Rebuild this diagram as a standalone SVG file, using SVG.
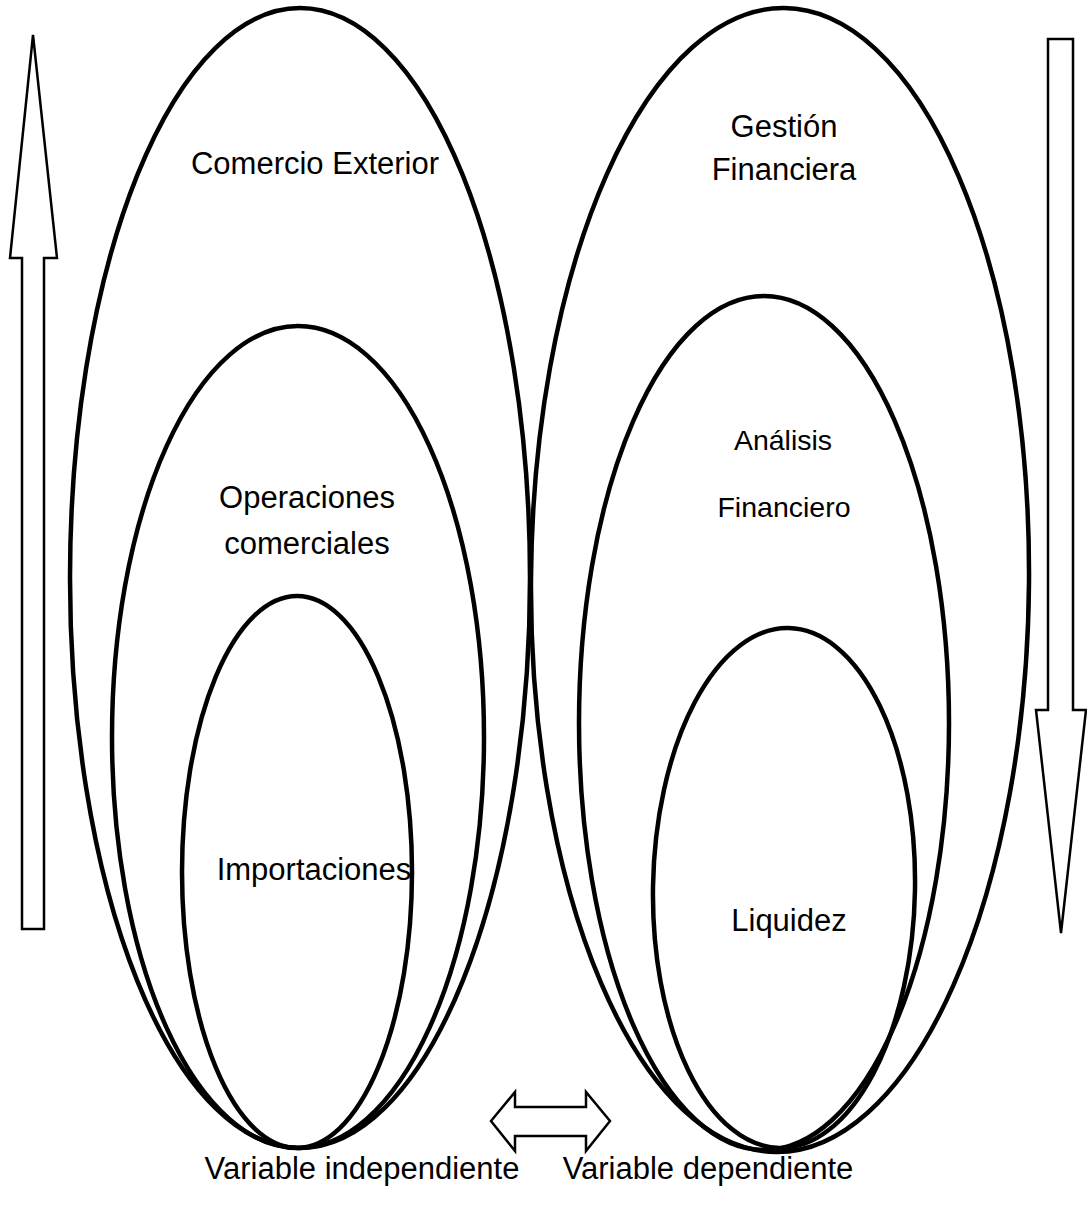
<svg xmlns="http://www.w3.org/2000/svg" width="1087" height="1213" viewBox="0 0 1087 1213">
<style>
.ell{fill:none;stroke:#000;stroke-width:4.5}
.arr{fill:#fff;stroke:#000;stroke-width:2.5;stroke-linejoin:miter}
text{font-family:"Liberation Sans",Arial,sans-serif;font-size:31px;fill:#000;text-anchor:middle}
.sm{font-size:28.5px}
</style>
<rect width="1087" height="1213" fill="#fff"/>
<g id="connectors">
<path class="arr" d="M33,35 L57,258 L44,258 L44,929 L22,929 L22,258 L10,258 Z"/>
<path class="arr" d="M1048,39 L1073,39 L1073,710 L1086,710 L1061,933 L1036,710 L1048,710 Z"/>
<path class="arr" d="M491,1121 L515,1092 L515,1107 L586,1107 L586,1092 L610,1121 L586,1151 L586,1136 L515,1136 L515,1151 Z"/>
</g>
<g id="comercio-exterior"><ellipse class="ell" cx="300" cy="578" rx="230" ry="570"/><text x="315" y="174">Comercio Exterior</text></g>
<g id="operaciones-comerciales"><ellipse class="ell" cx="298" cy="737" rx="186" ry="411"/><text x="307" y="508">Operaciones</text><text x="307" y="554">comerciales</text></g>
<g id="importaciones"><ellipse class="ell" cx="297" cy="872" rx="115" ry="276"/><text x="314" y="880">Importaciones</text></g>
<g id="gestion-financiera"><ellipse class="ell" cx="780" cy="580" rx="249" ry="572" transform="rotate(0.4 780 580)"/><text x="784" y="137">Gestión</text><text x="784" y="180">Financiera</text></g>
<g id="analisis-financiero"><ellipse class="ell" cx="764" cy="723" rx="185" ry="427"/><text class="sm" x="783" y="450">Análisis</text><text class="sm" x="784" y="517">Financiero</text></g>
<g id="liquidez"><ellipse class="ell" cx="784" cy="888" rx="131" ry="260" transform="rotate(1 784 888)"/><text x="789" y="931">Liquidez</text></g>
<g id="labels"><text x="362" y="1179">Variable independiente</text><text x="708" y="1179">Variable dependiente</text></g>
</svg>
